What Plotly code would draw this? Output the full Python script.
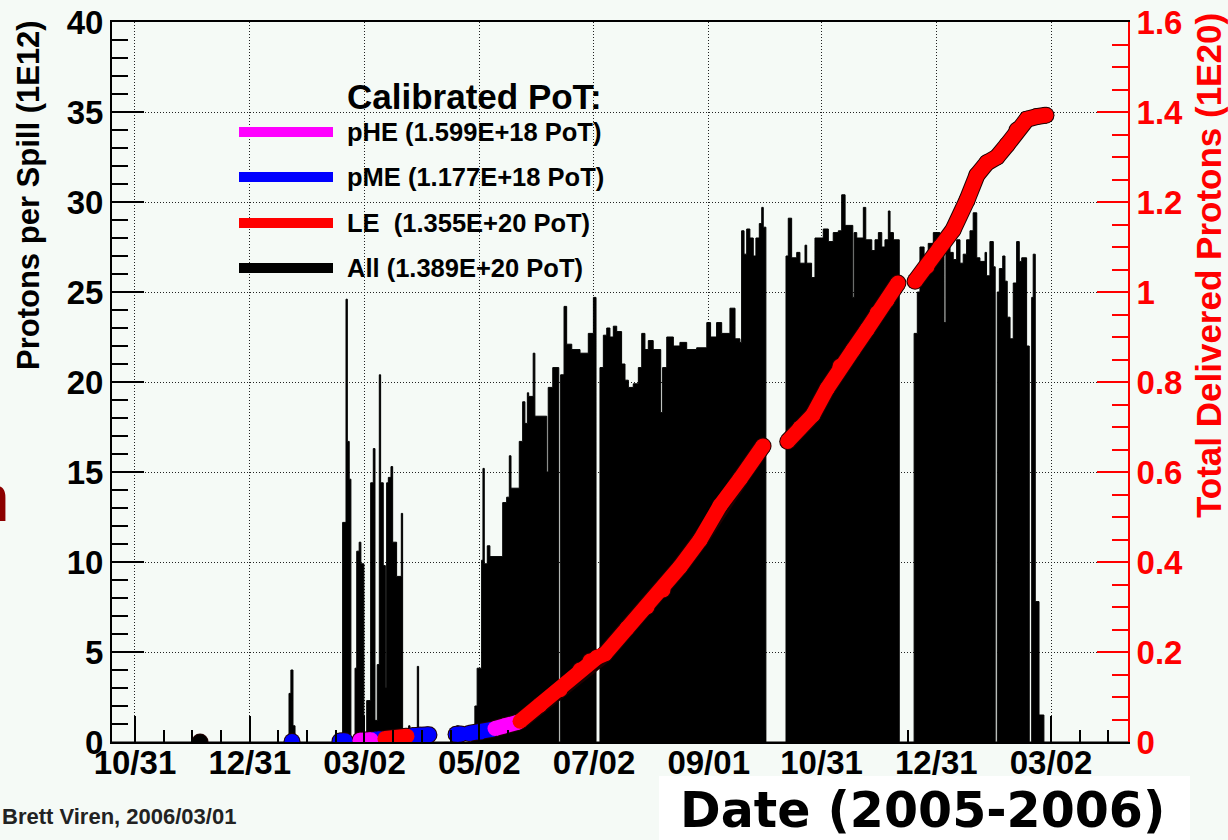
import pandas as pd
import plotly.graph_objects as go

# ---------------- data ----------------
T0 = pd.Timestamp("2004-10-31")   # day 0 of the day counts below

# Protons per spill (1E12): step histogram, value holds from each day until the next
pps_day = [
    -12.2, 81.9, 82.9, 84.0, 85.1, 110.4, 112.2, 112.9, 113.9, 114.8,
    117.0, 117.9, 119.2, 120.1, 121.7, 123.2, 125.3, 126.7, 127.6, 128.8,
    129.9, 130.6, 132.0, 133.1, 133.8, 134.7, 136.1, 137.0, 139.1, 141.6,
    142.3, 145.5, 146.2, 150.1, 150.8, 155.1, 157.7, 171.0, 172.1, 179.0,
    180.7, 181.9, 184.3, 185.0, 185.7, 187.3, 188.7, 195.5, 197.6, 199.0,
    199.9, 204.3, 206.1, 207.3, 208.6, 209.3, 211.7, 212.6, 218.9, 219.7,
    222.1, 225.3, 226.3, 228.1, 229.5, 232.2, 236.6, 241.0, 243.7, 245.1,
    247.2, 249.0, 250.8, 252.5, 254.3, 256.1, 258.7, 260.5, 262.3, 264.9,
    267.6, 269.4, 271.1, 272.9, 275.5, 279.5, 280.5, 282.7, 286.2, 289.7,
    293.3, 298.6, 304.0, 306.0, 309.2, 311.9, 316.3, 319.0, 321.6, 322.5,
    323.8, 325.2, 326.9, 328.7, 330.1, 331.9, 333.2, 334.0, 335.4, 346.1,
    347.3, 349.1, 351.8, 353.5, 356.2, 357.1, 359.7, 361.5, 365.9, 368.6,
    371.2, 373.9, 375.7, 377.5, 381.6, 382.3, 383.7, 387.2, 388.5, 391.7,
    393.4, 395.2, 397.0, 398.7, 400.5, 401.4, 403.2, 406.3, 414.2, 415.9,
    417.3, 419.5, 421.7, 424.4, 427.9, 430.1, 431.1, 433.3, 435.0, 436.8,
    438.6, 440.3, 442.1, 443.9, 445.6, 447.5, 449.2, 451.9, 452.7, 454.5,
    456.3, 457.3, 458.4, 459.5, 461.3, 462.5, 463.7, 465.2, 466.9, 468.7,
    470.1, 471.4, 474.0, 475.4, 476.7, 477.5, 478.6, 480.6, 483.2, 527.9,
]
pps_val = [
    0, 2.7, 4.0, 0.9, 0, 12.2, 24.6, 16.7, 14.6, 0,
    4.1, 10.6, 11.1, 9.9, 0.3, 2.3, 14.4, 16.3, 1.2, 4.3,
    20.4, 14.4, 9.8, 3.0, 14.4, 14.7, 15.3, 11.1, 9.2, 12.7,
    0.6, 0.9, 0.6, 4.2, 0.8, 0.6, 0, 0.9, 0, 0.8,
    2.0, 4.1, 10.1, 15.2, 9.9, 10.9, 10.3, 13.3, 13.6, 15.9,
    14.1, 16.7, 18.9, 17.7, 19.4, 19.2, 21.6, 18.1, 15.0, 19.7,
    20.8, 0, 20.4, 24.2, 22.1, 21.8, 21.6, 22.7, 24.7, 0,
    20.8, 22.6, 23.0, 22.5, 23.1, 22.8, 21.0, 20.1, 19.7, 19.9,
    20.8, 22.7, 21.8, 22.3, 21.8, 18.3, 20.8, 22.5, 22.0, 22.2,
    21.8, 21.9, 23.3, 22.5, 23.3, 22.7, 24.1, 22.4, 22.2, 28.4,
    27.1, 28.5, 28.0, 27.0, 28.0, 28.8, 29.7, 28.6, 0, 27.0,
    29.1, 26.9, 27.2, 26.6, 27.6, 26.6, 25.8, 28.0, 28.5, 27.8,
    28.3, 28.4, 30.4, 28.7, 24.7, 28.3, 28.0, 29.7, 27.9, 27.3,
    27.9, 28.3, 27.5, 27.9, 29.5, 28.3, 27.9, 0, 22.7, 25.0,
    27.5, 26.9, 27.7, 28.3, 27.6, 23.3, 27.9, 27.2, 26.8, 27.9,
    26.6, 27.1, 27.9, 28.4, 29.4, 26.9, 26.7, 27.2, 25.9, 27.8,
    26.4, 0, 25.0, 26.3, 27.0, 25.6, 23.6, 22.4, 25.5, 27.8,
    26.7, 26.9, 22.0, 0, 24.7, 27.1, 7.8, 1.5, 0, 0,
]

# Total delivered protons (1E20), per beam configuration (None = beam off)
all_day = [34.6]
all_pot = [0.000]
pme_day = [83.5, None, 109.0, 111.6, None, 127.6, 130.2, None, 147.3, 151.5, 156.3,
           None, 170.7, 173.3, None, 177.6, 183.4, 189.8]
pme_pot = [0.001, None, 0.002, 0.003, None, 0.006, 0.007, None, 0.014, 0.015, 0.016,
           None, 0.017, 0.018, None, 0.019, 0.022, 0.028]
phe_day = [119.6, 125.5, None, 191.4, 196.7, 203.6]
phe_pot = [0.004, 0.005, None, 0.030, 0.036, 0.044]
le_day = [132.9, 138.2, 144.6, None,
          204.7, 215.3, 226.0, 236.6, 241.9, 245.6, 249.9, 261.6, 272.2, 280.7, 289.7,
          300.4, 311.0, 321.7, 333.9, None,
          347.0, 353.5, 360.4, 367.9, 374.8, 381.7, 389.1, 394.5, 399.8, 405.6, None,
          414.7, 421.0, 427.9, 434.9, 442.3, 447.6, 452.9, 458.3, 463.6, 468.9, 474.2,
          479.5, 484.3]
le_pot = [0.008, 0.010, 0.013, None,
          0.046, 0.082, 0.116, 0.160, 0.180, 0.188, 0.196, 0.253, 0.300, 0.338, 0.389,
          0.449, 0.525, 0.585, 0.658, None,
          0.668, 0.698, 0.727, 0.785, 0.835, 0.871, 0.916, 0.953, 0.982, 1.020, None,
          1.024, 1.056, 1.100, 1.138, 1.204, 1.260, 1.287, 1.300, 1.327, 1.360, 1.384,
          1.390, 1.393]

x_tick_dates = ["2004-10-31", "2004-12-31", "2005-03-02", "2005-05-02", "2005-07-02",
                "2005-09-01", "2005-10-31", "2005-12-31", "2006-03-02"]
x_tick_text = ["10/31", "12/31", "03/02", "05/02", "07/02", "09/01", "10/31", "12/31", "03/02"]
x_range_days = [-12.2, 527.9]

legend_title = "Calibrated PoT:"
legend_labels = ["pHE (1.599E+18 PoT)", "pME (1.177E+18 PoT)",
                 "LE\u00a0 (1.355E+20 PoT)", "All (1.389E+20 PoT)"]
legend_colors = ["#ff00ff", "#0000ff", "#ff0000", "#000000"]

# ---------------- helpers ----------------
def to_dates(days):
    return [None if d is None else (T0 + pd.Timedelta(days=d)).strftime("%Y-%m-%d %H:%M:%S")
            for d in days]

BG = "#f5faf6"
FONT = "Liberation Sans"

# plot-area geometry in pixels (for paper coordinates of decorations)
L, R, T, B = 112, 1128, 22, 742
def px(x):
    return (x - L) / (R - L)
def py(y):
    return (B - y) / (B - T)

# minor ticks: quarter divisions of the major tick spacing
maj = [pd.Timestamp(d) for d in x_tick_dates]
xmin = T0 + pd.Timedelta(days=x_range_days[0])
xmax = T0 + pd.Timedelta(days=x_range_days[1])
minor_vals = []
for a, b in zip(maj[:-1], maj[1:]):
    for k in (1, 2, 3):
        minor_vals.append(a + (b - a) * k / 4)
step = (maj[-1] - maj[0]) / (len(maj) - 1) / 4
t = maj[-1] + step
while t < xmax:
    minor_vals.append(t)
    t = t + step
t = maj[0] - step
while t > xmin:
    minor_vals.append(t)
    t = t - step
minor_vals = [m.strftime("%Y-%m-%d %H:%M:%S") for m in minor_vals]

# ---------------- figure ----------------
fig = go.Figure()

fig.add_trace(go.Scatter(
    x=to_dates(pps_day), y=pps_val, mode="lines",
    line=dict(shape="hv", color="black", width=1),
    fill="tozeroy", fillcolor="black", hoverinfo="skip", yaxis="y"))

segments = [(all_day, all_pot, "#000000"), (pme_day, pme_pot, "#0000ff"),
            (phe_day, phe_pot, "#ff00ff"), (le_day, le_pot, "#ff0000")]
for days, pot, col in segments:
    fig.add_trace(go.Scatter(
        x=to_dates(days), y=pot, yaxis="y2", mode="lines+markers", connectgaps=False,
        line=dict(color="#200000", width=17), marker=dict(size=17, color="#200000"),
        hoverinfo="skip"))
for days, pot, col in segments:
    fig.add_trace(go.Scatter(
        x=to_dates(days), y=pot, yaxis="y2", mode="lines+markers", connectgaps=False,
        line=dict(color=col, width=15), marker=dict(size=15, color=col),
        hoverinfo="skip"))

tickfont = dict(family=FONT, size=33, color="black", weight="bold")

fig.update_layout(
    width=1228, height=840,
    margin=dict(l=L, r=1228 - R, t=T, b=840 - B, autoexpand=False),
    paper_bgcolor=BG, plot_bgcolor=BG,
    showlegend=False,
    xaxis=dict(
        type="date", range=to_dates(x_range_days), automargin=False,
        tickmode="array", tickvals=x_tick_dates, ticktext=x_tick_text,
        ticks="inside", ticklen=26, tickwidth=1.5, tickcolor="black",
        showline=True, linecolor="black", linewidth=2, mirror=True,
        showgrid=True, gridcolor="#222222", gridwidth=1, griddash="1px,2px",
        zeroline=False, tickfont=tickfont, ticklabelstandoff=-10,
        minor=dict(tickmode="array", tickvals=minor_vals, ticks="inside",
                   ticklen=12, tickwidth=1.5, tickcolor="black", showgrid=False),
    ),
    yaxis=dict(
        range=[0, 40], tickmode="linear", tick0=0, dtick=5, automargin=False,
        ticks="inside", ticklen=32, tickwidth=1.5, tickcolor="black",
        showline=True, linecolor="black", linewidth=2,
        showgrid=True, gridcolor="#222222", gridwidth=1, griddash="1px,2px",
        zeroline=False, tickfont=tickfont, ticklabelstandoff=0,
        minor=dict(dtick=1, ticks="inside", ticklen=16, tickwidth=1.5,
                   tickcolor="black", showgrid=False),
    ),
    yaxis2=dict(
        overlaying="y", side="right", range=[0, 1.6], tickmode="linear", tick0=0, dtick=0.2,
        automargin=False,
        ticks="inside", ticklen=31, tickwidth=1.5, tickcolor="#ff0000",
        showline=True, linecolor="#ff0000", linewidth=2,
        showgrid=False, zeroline=False,
        tickfont=dict(family=FONT, size=33, color="#ff0000", weight="bold"),
        ticklabelstandoff=0,
        minor=dict(dtick=0.05, ticks="inside", ticklen=16, tickwidth=1.5,
                   tickcolor="#ff0000", showgrid=False),
    ),
)

ann = []
ann.append(dict(text="Protons per Spill (1E12)", textangle=-90, xref="paper", yref="paper",
                x=px(28), y=py(195), xanchor="center", yanchor="middle", showarrow=False,
                font=dict(family=FONT, size=31, color="black", weight="bold")))
ann.append(dict(text="Total Delivered Protons (1E20)", textangle=-90, xref="paper", yref="paper",
                x=px(1208), y=py(266), xanchor="center", yanchor="middle", showarrow=False,
                font=dict(family=FONT, size=35, color="#ff0000", weight="bold")))
ann.append(dict(text=legend_title, xref="paper", yref="paper", x=px(345), y=py(97),
                xanchor="left", yanchor="middle", showarrow=False,
                font=dict(family=FONT, size=35, color="black", weight="bold")))
rows = [132, 177, 223, 268]
shapes = []
for lab, col, ry in zip(legend_labels, legend_colors, rows):
    ann.append(dict(text=lab, xref="paper", yref="paper", x=px(345), y=py(ry),
                    xanchor="left", yanchor="middle", showarrow=False,
                    font=dict(family=FONT, size=25.5, color="black", weight="bold")))
    shapes.append(dict(type="line", xref="paper", yref="paper", x0=px(239), x1=px(333),
                       y0=py(ry), y1=py(ry), line=dict(color=col, width=10)))

# white box behind the axis caption
shapes.append(dict(type="rect", xref="paper", yref="paper", x0=px(659), x1=px(1190),
                   y0=py(776), y1=py(850), fillcolor="white", line=dict(width=0), layer="below"))
ann.append(dict(text="Date (2005-2006)", xref="paper", yref="paper", x=px(922), y=py(810),
                xanchor="center", yanchor="middle", showarrow=False,
                font=dict(family="DejaVu Sans", size=49, color="black", weight="bold")))
ann.append(dict(text="Brett Viren, 2006/03/01", xref="paper", yref="paper", x=px(0), y=py(816),
                xanchor="left", yanchor="middle", showarrow=False,
                font=dict(family=FONT, size=22, color="#222222", weight="bold")))
ann.append(dict(text="n", xref="paper", yref="paper", x=px(12), y=py(498),
                xanchor="right", yanchor="middle", showarrow=False,
                font=dict(family=FONT, size=66, color="#8c0000")))

fig.update_layout(annotations=ann, shapes=shapes)
fig.write_html("out.html")
